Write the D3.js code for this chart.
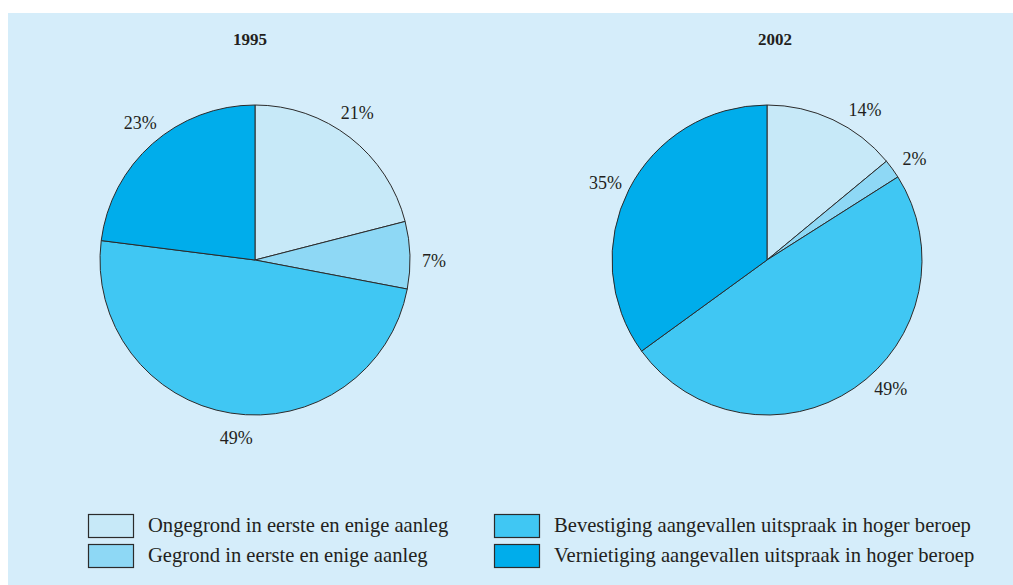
<!DOCTYPE html>
<html><head><meta charset="utf-8">
<script src="https://cdn.jsdelivr.net/npm/d3@7"></script>
<style>
html,body{margin:0;padding:0;background:#fff;}
svg{display:block;}
text{font-family:"Liberation Serif","DejaVu Serif",serif;fill:#231f20;}
</style></head>
<body>
<svg id="chart" width="1013" height="585"></svg>
<script>
// ---- data ----
const categories = [
  "Ongegrond in eerste en enige aanleg",
  "Gegrond in eerste en enige aanleg",
  "Bevestiging aangevallen uitspraak in hoger beroep",
  "Vernietiging aangevallen uitspraak in hoger beroep"
];
const years = ["1995", "2002"];
const values1995 = [21, 7, 49, 23];
const values2002 = [14, 2, 49, 35];
const colors = ["#c7e9f8", "#8ed8f5", "#40c7f3", "#00adeb"];

// ---- layout ----
const svg = d3.select("#chart");
svg.append("rect").attr("x", 8).attr("y", 13).attr("width", 1005).attr("height", 572).attr("fill", "#d5edfa");

const R = 155;
const centers = [[255, 260], [767, 260]];
const titleX = [250, 775];
// manual label nudges in degrees (layout only)
const labelNudge = [[-3, 2, -3, 1.5], [8, 1.5, -9.5, -1.5]];
const labelR = 179;

const pie = d3.pie().sort(null).value(d => d);
const arc = d3.arc().innerRadius(0).outerRadius(R);
const color = d3.scaleOrdinal().domain(d3.range(categories.length)).range(colors);

[values1995, values2002].forEach((vals, p) => {
  const g = svg.append("g").attr("transform", `translate(${centers[p][0]},${centers[p][1]})`);
  const arcs = pie(vals);
  g.selectAll("path").data(arcs).join("path")
    .attr("d", arc)
    .attr("fill", (d, i) => color(i))
    .attr("stroke", "#2b2b2b").attr("stroke-width", 1);
  g.selectAll("text.lbl").data(arcs).join("text").attr("class", "lbl")
    .attr("x", (d, i) => { const a = (d.startAngle + d.endAngle) / 2 + labelNudge[p][i] * Math.PI / 180; return labelR * Math.sin(a); })
    .attr("y", (d, i) => { const a = (d.startAngle + d.endAngle) / 2 + labelNudge[p][i] * Math.PI / 180; return -labelR * Math.cos(a); })
    .attr("text-anchor", "middle").attr("dominant-baseline", "central")
    .style("font-size", "18px")
    .text(d => d.data + "%");
  svg.append("text").attr("x", titleX[p]).attr("y", 45)
    .attr("text-anchor", "middle").style("font-size", "17px").style("font-weight", "bold")
    .text(years[p]);
});

// legend
const legX = [88, 494], legY = [514, 544];
categories.forEach((c, i) => {
  const col = Math.floor(i / 2), row = i % 2;
  svg.append("rect").attr("x", legX[col] + 0.5).attr("y", legY[row] + 0.5)
    .attr("width", 45).attr("height", 23)
    .attr("fill", colors[i]).attr("stroke", "#2b2b2b").attr("stroke-width", 1.2);
  svg.append("text").attr("x", legX[col] + 60).attr("y", legY[row] + 18)
    .style("font-size", "20.6px").text(c);
});
</script>
</body></html>
